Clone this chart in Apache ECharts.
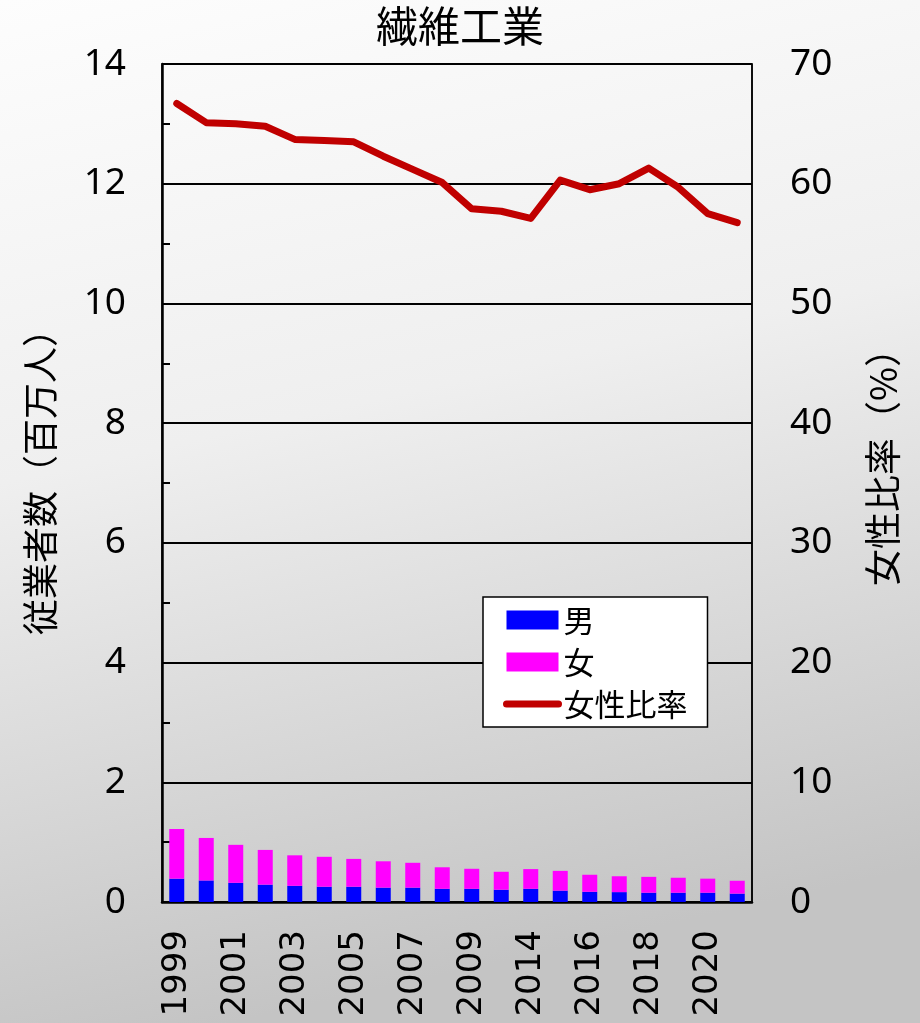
<!DOCTYPE html>
<html>
<head>
<meta charset="utf-8">
<script src="https://cdn.jsdelivr.net/npm/echarts@6/dist/echarts.min.js"></script>
<style>html,body{margin:0;padding:0;}#c{width:920px;height:1023px;}</style>
</head>
<body>
<div id="c"></div>
<script>
const title = '繊維工業';
const categories = ['1999','2000','2001','2002','2003','2004','2005','2006','2007','2008','2009','2010','2014','2015','2016','2017','2018','2019','2020','2021'];
const male =   [0.39,0.36,0.32,0.29,0.27,0.255,0.255,0.24,0.24,0.22,0.22,0.205,0.22,0.19,0.17,0.165,0.155,0.155,0.155,0.14];
const female = [0.83,0.71,0.635,0.58,0.51,0.50,0.465,0.44,0.415,0.36,0.335,0.30,0.33,0.33,0.285,0.265,0.265,0.25,0.235,0.215];
const femaleRatio = [66.7,65.1,65.0,64.8,63.7,63.6,63.5,62.3,61.2,60.1,57.9,57.7,57.1,60.3,59.5,60.0,61.3,59.7,57.5,56.75];
const seriesNames = ['男','女','女性比率'];
const leftAxisName = '従業者数（百万人）';
const rightAxisName = '女性比率（%）';

const chart = echarts.init(document.getElementById('c'), null, {renderer:'canvas'});
const numFont = 'Noto Sans';
const jpFont = '"Noto Sans CJK JP"';
chart.setOption({
  animation: false,
  backgroundColor: {
    type: 'linear', x: 0, y: 0, x2: 0.25, y2: 1,
    colorStops: [
      {offset: 0, color: '#fdfdfd'},
      {offset: 0.45, color: '#efefef'},
      {offset: 1, color: '#c4c4c4'}
    ]
  },
  title: {
    text: title, left: 'center', top: 0,
    textStyle: {fontFamily: jpFont, fontSize: 42, fontWeight: 'normal', color: '#000'}
  },
  legend: {
    orient: 'vertical', left: 483, top: 597,
    backgroundColor: '#fff', borderColor: '#000', borderWidth: 1.5,
    padding: [5, 20, 5, 20],
    itemWidth: 52, itemHeight: 19, itemGap: 6,
    textStyle: {fontFamily: jpFont, fontSize: 31, lineHeight: 36, color: '#000'},
    lineStyle: {width: 7, cap: 'round', color: '#c00000'},
    data: [
      {name: seriesNames[0], icon: 'rect'},
      {name: seriesNames[1], icon: 'rect'},
      {name: seriesNames[2], itemStyle: {opacity: 0}}
    ]
  },
  grid: {
    left: 162, right: 168, top: 64, bottom: 121,
    show: true, borderColor: '#000', borderWidth: 1.5, backgroundColor: 'transparent'
  },
  xAxis: {
    type: 'category', data: categories,
    axisLine: {lineStyle: {color: '#000', width: 2.5}},
    axisTick: {show: false},
    axisLabel: {interval: 1, rotate: 90, margin: 28, fontFamily: 'DejaVu Sans', fontSize: 34, color: '#000'}
  },
  yAxis: [
    {
      type: 'value', min: 0, max: 14, interval: 2,
      name: leftAxisName, nameLocation: 'middle', nameGap: 104, nameRotate: 90,
      nameTextStyle: {fontFamily: jpFont, fontSize: 36, color: '#000', padding: [0, 0, 0, 20]},
      axisLine: {show: true, lineStyle: {color: '#000', width: 2.5}},
      axisTick: {show: true, inside: true, length: 8, lineStyle: {color: '#000', width: 2}},
      minorTick: {show: true, splitNumber: 2, length: 8, lineStyle: {color: '#000', width: 2}},
      splitLine: {show: true, lineStyle: {color: '#000', width: 1.8}},
      axisLabel: {margin: 36, fontFamily: numFont, fontSize: 37, color: '#000'}
    },
    {
      type: 'value', min: 0, max: 70, interval: 10, position: 'right',
      name: rightAxisName, nameLocation: 'middle', nameGap: 112, nameRotate: 90,
      nameTextStyle: {fontFamily: jpFont, fontSize: 37, color: '#000', padding: [0, 0, 0, 50]},
      axisLine: {show: true, lineStyle: {color: '#000', width: 1.5}},
      axisTick: {show: false},
      splitLine: {show: false},
      axisLabel: {margin: 38, fontFamily: numFont, fontSize: 37, color: '#000'}
    }
  ],
  series: [
    {name: seriesNames[0], type: 'bar', stack: 'w', data: male, barWidth: 15, itemStyle: {color: '#0000ff'}},
    {name: seriesNames[1], type: 'bar', stack: 'w', data: female, barWidth: 15, itemStyle: {color: '#ff00ff'}},
    {name: seriesNames[2], type: 'line', yAxisIndex: 1, data: femaleRatio, symbol: 'none',
     lineStyle: {color: '#c00000', width: 7, cap: 'round', join: 'round'}, itemStyle: {color: '#c00000'}}
  ]
});
</script>
</body>
</html>
